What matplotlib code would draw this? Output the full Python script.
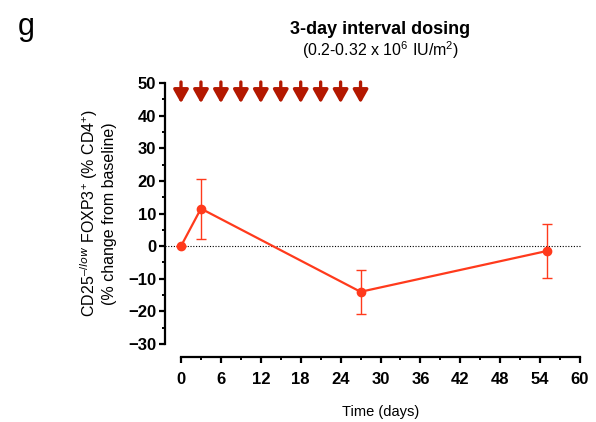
import matplotlib
matplotlib.use("Agg")
import matplotlib.pyplot as plt
from matplotlib.ticker import MultipleLocator

plt.rcParams['font.family'] = ['Liberation Sans', 'DejaVu Sans']
plt.rcParams['mathtext.fontset'] = 'custom'
plt.rcParams['mathtext.rm'] = 'Liberation Sans'

# time points (days) and mean % change with error
days = [0, 3, 27, 55]
change = [0, 11.5, -14, -1.5]
err = [0, 9.2, 6.7, 8.2]
dose_days = [0, 3, 6, 9, 12, 15, 18, 21, 24, 27]

line_color = "#ff3a1c"
arrow_color = "#b41800"

fig = plt.figure(figsize=(5.96, 4.22), dpi=100)
ax = fig.add_axes([181 / 596, 1 - 344 / 422, (580 - 181) / 596, (344 - 83) / 422])

ax.axhline(0, xmin=-0.04, xmax=1.0, color="black", linestyle=(0, (1, 1.5)), linewidth=0.8, clip_on=False, zorder=1)

ax.errorbar(days, change, yerr=err, color=line_color, marker="o", markersize=6,
            linewidth=1.6, elinewidth=1.0, capsize=3.5, capthick=1.0, clip_on=False, zorder=3)

# dosing arrows along the top
for d in dose_days:
    ax.annotate("", xy=(d, 43.8), xytext=(d, 50.3),
                arrowprops=dict(arrowstyle="-|>,head_width=0.45,head_length=0.8",
                                color=arrow_color, lw=2.4, shrinkA=0, shrinkB=0),
                annotation_clip=False)

ax.set_xlim(0, 60)
ax.set_ylim(-30, 50)
ax.xaxis.set_major_locator(MultipleLocator(6))
ax.xaxis.set_minor_locator(MultipleLocator(3))
ax.yaxis.set_major_locator(MultipleLocator(10))
ax.yaxis.set_minor_locator(MultipleLocator(5))

for side in ("top", "right"):
    ax.spines[side].set_visible(False)
ax.spines["left"].set_position(("outward", 11.5))
ax.spines["bottom"].set_position(("outward", 9.5))
for side in ("left", "bottom"):
    ax.spines[side].set_linewidth(1.6)

ax.tick_params(which="major", length=4.5, width=1.6, labelsize=12, pad=2)
ax.tick_params(which="minor", length=2.5, width=1.4)
ax.tick_params(axis="x", pad=6)
for lab in ax.get_xticklabels() + ax.get_yticklabels():
    lab.set_fontweight("bold")

ax.set_xlabel("Time (days)", fontsize=10.5, labelpad=13)
ax.set_ylabel("CD25$^{\u2013/low}$ FOXP3$^{+}$ (% CD4$^{+}$)\n(% change from baseline)",
              fontsize=11.5, labelpad=8, linespacing=1.15)

fig.text(380 / 596, 1 - 29 / 422, "3-day interval dosing", ha="center", va="center",
         fontsize=13, fontweight="bold")
fig.text(380 / 596, 1 - 50 / 422, "(0.2-0.32 x 10$^{6}$ IU/m$^{2}$)", ha="center", va="center",
         fontsize=11.5)
fig.text(18 / 596, 1 - 27 / 422, "g", ha="left", va="center", fontsize=22)

fig.savefig("out.png", dpi=100, facecolor="white")
